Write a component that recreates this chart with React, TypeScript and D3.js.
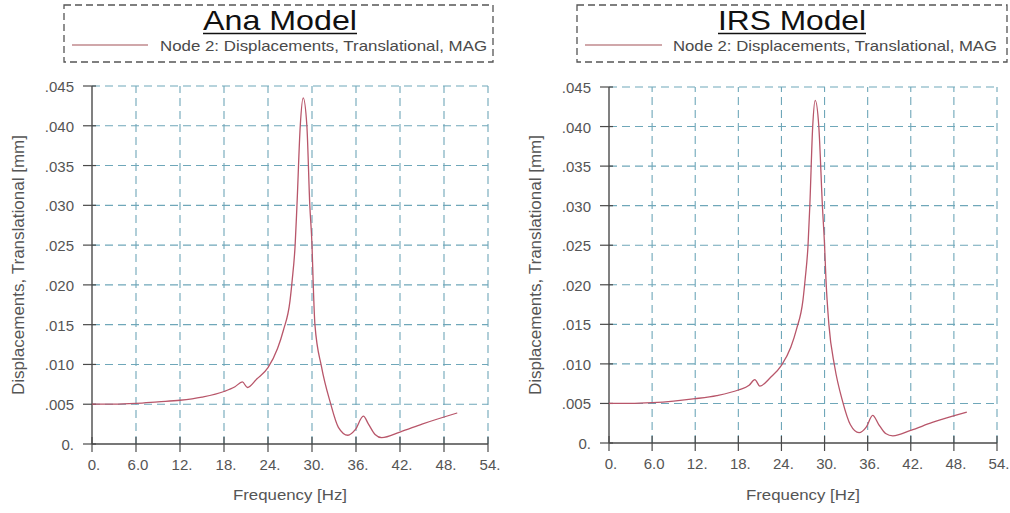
import { useRef, useEffect } from 'react'
import * as d3 from 'd3'

// frequency [Hz] / displacement [mm]
const anaFreq = [0, 3, 6, 9, 12, 15, 18, 19.5, 20.5, 21.2, 22.5, 24, 25.3, 26.1, 27, 27.3, 27.7, 27.95, 28.4, 28.8, 29.3, 29.7, 30.0, 30.15, 30.4, 31.3, 32.5, 33.6, 34.9, 35.9, 37.0, 37.7, 38.6, 39.5, 42, 45, 49.8]
const anaDisp = [0.0050, 0.0050, 0.0051, 0.0053, 0.0055, 0.0059, 0.0066, 0.0072, 0.0078, 0.0071, 0.0082, 0.0096, 0.0120, 0.0143, 0.0180, 0.0206, 0.0250, 0.0300, 0.0400, 0.0435, 0.0400, 0.0300, 0.0250, 0.0206, 0.0150, 0.0097, 0.0052, 0.0021, 0.0011, 0.0018, 0.0035, 0.0025, 0.0012, 0.0008, 0.0015, 0.0025, 0.0039]

const irsFreq = [0, 3, 6, 9, 12, 15, 18, 19.5, 20.3, 21.0, 22.5, 24, 25.3, 26.1, 27, 27.3, 27.7, 27.95, 28.35, 28.7, 29.2, 29.7, 30.0, 30.2, 30.6, 31.4, 32.5, 33.6, 34.8, 35.8, 36.7, 37.5, 38.5, 39.5, 42, 45, 49.8]
const irsDisp = [0.0050, 0.0050, 0.0051, 0.0053, 0.0056, 0.0060, 0.0067, 0.0073, 0.0080, 0.0072, 0.0083, 0.0098, 0.0121, 0.0144, 0.0181, 0.0207, 0.0250, 0.0300, 0.0400, 0.0433, 0.0400, 0.0300, 0.0250, 0.0206, 0.0150, 0.0097, 0.0053, 0.0023, 0.0013, 0.0020, 0.0035, 0.0024, 0.0012, 0.0009, 0.0016, 0.0026, 0.0039]

const xTicks = [0, 6, 12, 18, 24, 30, 36, 42, 48, 54]
const xTickLabels = ['0.', '6.0', '12.', '18.', '24.', '30.', '36.', '42.', '48.', '54.']
const yTicks = [0, 0.005, 0.01, 0.015, 0.02, 0.025, 0.03, 0.035, 0.04, 0.045]
const yTickLabels = ['0.', '.005', '.010', '.015', '.020', '.025', '.030', '.035', '.040', '.045']

const legendText = 'Node 2: Displacements, Translational, MAG'
const xTitle = 'Frequency [Hz]'
const yTitle = 'Displacements, Translational [mm]'

const FONT = '"Liberation Sans", Arial, sans-serif'
const GRID = '#6fa7b9'
const AXIS = '#4a4a4a'
const LINE = '#b8566a'

interface PanelLayout {
  x0: number
  x1: number
  y0: number
  y1: number
  boxX: number
  boxW: number
  titleX: number
  titleW: number
  legX0: number
  legX1: number
  legTextX: number
  legTextW: number
  yTitleX: number
  xTitleX: number
}

function drawPanel(
  svg: d3.Selection<SVGSVGElement, unknown, null, undefined>,
  title: string,
  freq: number[],
  disp: number[],
  L: PanelLayout
) {
  const g = svg.append('g')

  // legend box
  g.append('rect')
    .attr('x', L.boxX).attr('y', 5)
    .attr('width', L.boxW).attr('height', 57)
    .attr('fill', 'none').attr('stroke', '#555')
    .attr('stroke-width', 1.3).attr('stroke-dasharray', '7,4')

  g.append('text')
    .attr('x', L.titleX - L.titleW / 2).attr('y', 30)
    .attr('textLength', L.titleW).attr('lengthAdjust', 'spacingAndGlyphs')
    .attr('font-family', FONT).attr('font-size', 28).attr('fill', '#111')
    .text(title)
  g.append('line')
    .attr('x1', L.titleX - L.titleW / 2).attr('x2', L.titleX + L.titleW / 2)
    .attr('y1', 33.5).attr('y2', 33.5)
    .attr('stroke', '#111').attr('stroke-width', 1.6)

  g.append('line')
    .attr('x1', L.legX0).attr('x2', L.legX1).attr('y1', 45).attr('y2', 45)
    .attr('stroke', '#c08a8e').attr('stroke-width', 1.4)
  g.append('text')
    .attr('x', L.legTextX).attr('y', 51)
    .attr('textLength', L.legTextW).attr('lengthAdjust', 'spacingAndGlyphs')
    .attr('font-family', FONT).attr('font-size', 15).attr('fill', '#4a4a4a')
    .text(legendText)

  const x = d3.scaleLinear().domain([0, 54]).range([L.x0, L.x1])
  const y = d3.scaleLinear().domain([0, 0.045]).range([L.y1, L.y0])

  // grid
  g.append('g').selectAll('line').data(xTicks.slice(1)).join('line')
    .attr('x1', (d: number) => x(d)).attr('x2', (d: number) => x(d))
    .attr('y1', y(0)).attr('y2', y(0.045))
    .attr('stroke', GRID).attr('stroke-width', 1.1).attr('stroke-dasharray', '8,5')
  g.append('g').selectAll('line').data(yTicks.slice(1)).join('line')
    .attr('x1', x(0)).attr('x2', x(54))
    .attr('y1', (d: number) => y(d)).attr('y2', (d: number) => y(d))
    .attr('stroke', GRID).attr('stroke-width', 1.1).attr('stroke-dasharray', '8,5')

  // axes
  g.append('line')
    .attr('x1', x(0)).attr('x2', x(54)).attr('y1', y(0)).attr('y2', y(0))
    .attr('stroke', AXIS).attr('stroke-width', 1.4)
  g.append('line')
    .attr('x1', x(0)).attr('x2', x(0)).attr('y1', y(0)).attr('y2', y(0.045))
    .attr('stroke', AXIS).attr('stroke-width', 1.4)

  g.append('g').selectAll('line').data(xTicks).join('line')
    .attr('x1', (d: number) => x(d)).attr('x2', (d: number) => x(d))
    .attr('y1', y(0) - 7).attr('y2', y(0) + 8)
    .attr('stroke', AXIS).attr('stroke-width', 1.2)
  g.append('g').selectAll('line').data(yTicks).join('line')
    .attr('x1', x(0) - 9).attr('x2', x(0) + 4)
    .attr('y1', (d: number) => y(d)).attr('y2', (d: number) => y(d))
    .attr('stroke', AXIS).attr('stroke-width', 1.2)

  g.append('g').selectAll('text').data(xTicks).join('text')
    .attr('x', (d: number) => x(d) + 2).attr('y', y(0) + 26)
    .attr('text-anchor', 'middle')
    .attr('font-family', FONT).attr('font-size', 15).attr('fill', '#555')
    .text((_: number, i: number) => xTickLabels[i])
  g.append('g').selectAll('text').data(yTicks).join('text')
    .attr('x', x(0) - 18).attr('y', (d: number) => y(d) + 6)
    .attr('text-anchor', 'end')
    .attr('font-family', FONT).attr('font-size', 15).attr('fill', '#555')
    .text((_: number, i: number) => yTickLabels[i])

  g.append('text')
    .attr('x', L.xTitleX - 57).attr('y', 500)
    .attr('textLength', 114).attr('lengthAdjust', 'spacingAndGlyphs')
    .attr('font-family', FONT).attr('font-size', 15).attr('fill', '#555')
    .text(xTitle)
  g.append('text')
    .attr('transform', `translate(${L.yTitleX},395) rotate(-90)`)
    .attr('textLength', 260).attr('lengthAdjust', 'spacingAndGlyphs')
    .attr('font-family', FONT).attr('font-size', 16).attr('fill', '#555')
    .text(yTitle)

  const pts = freq.map((f, i) => [f, disp[i]] as [number, number])
  const line = d3.line<[number, number]>()
    .x((d: [number, number]) => x(d[0]))
    .y((d: [number, number]) => y(d[1]))
    .curve(d3.curveMonotoneX)
  g.append('path')
    .datum(pts)
    .attr('fill', 'none').attr('stroke', LINE).attr('stroke-width', 1.3)
    .attr('d', line)
}

export default function App() {
  const svgRef = useRef<SVGSVGElement>(null)

  useEffect(() => {
    if (!svgRef.current) return
    const svg = d3.select(svgRef.current)
    svg.selectAll('*').remove()

    drawPanel(svg, 'Ana Model', anaFreq, anaDisp, {
      x0: 92, x1: 488, y0: 86, y1: 444,
      boxX: 64, boxW: 429,
      titleX: 280, titleW: 154,
      legX0: 72, legX1: 148, legTextX: 160, legTextW: 327,
      yTitleX: 24, xTitleX: 290
    })
    drawPanel(svg, 'IRS Model', irsFreq, irsDisp, {
      x0: 609, x1: 997, y0: 87, y1: 443,
      boxX: 577, boxW: 430,
      titleX: 792, titleW: 148,
      legX0: 585, legX1: 662, legTextX: 673, legTextW: 324,
      yTitleX: 541, xTitleX: 803
    })
  }, [])

  return (
    <svg
      ref={svgRef}
      width={1010}
      height={513}
      style={{ position: 'absolute', left: 0, top: 0, background: '#fff' }}
    />
  )
}
